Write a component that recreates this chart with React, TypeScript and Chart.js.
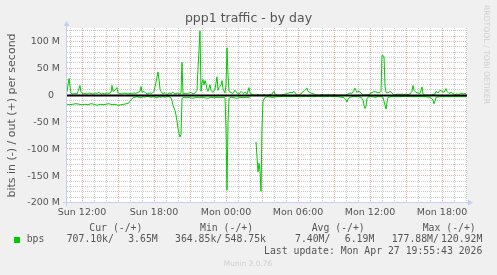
import React, { useEffect, useRef } from "react";
import { Chart, registerables } from "chart.js";

Chart.register(...registerables);

// Time is minutes since Sunday 00:00; values are Mbit/s.
const xStart = 645;
const xEnd = 2645;
const xTickMinutes = [720, 1080, 1440, 1800, 2160, 2520];
const yTickValues = [-200, -150, -100, -50, 0, 50, 100];
const yMin = -200;
const yMax = 126;

// out (+) traffic
const outTraffic: [number, number][] = [
  [645, 7], [650, 20], [655, 32], [660, 18], [665, 4], [675, 3], [685, 4], [695, 3], [700, 8], [710, 19],
  [715, 6], [725, 3], [735, 4], [745, 3], [755, 5], [765, 4], [775, 3], [785, 5], [795, 4], [805, 6],
  [815, 3], [825, 4], [835, 3], [845, 5], [855, 4], [865, 6], [870, 19], [875, 8], [885, 10], [895, 15],
  [900, 5], [910, 4], [920, 3], [930, 5], [940, 4], [950, 3], [960, 4], [970, 3], [980, 5], [990, 4],
  [1000, 6], [1010, 8], [1015, 17], [1020, 6], [1030, 8], [1040, 4], [1050, 3], [1060, 5], [1070, 4], [1080, 8],
  [1090, 25], [1100, 44], [1105, 30], [1110, 12], [1115, 8], [1125, 3], [1135, 6], [1145, 2], [1155, 5], [1165, 4],
  [1175, 6], [1185, 3], [1195, 5], [1205, 3], [1215, 4], [1220, 62], [1225, 3], [1235, 4], [1245, 3], [1255, 5],
  [1265, 6], [1275, 3], [1285, 5], [1295, 10], [1300, 50], [1310, 121], [1315, 8], [1320, 25], [1325, 30], [1330, 20],
  [1335, 28], [1340, 22], [1345, 12], [1350, 8], [1360, 20], [1365, 10], [1375, 6], [1385, 12], [1395, 35], [1400, 10],
  [1405, 15], [1415, 20], [1420, 28], [1425, 12], [1435, 5], [1440, 20], [1445, 89], [1450, 40], [1455, 8], [1465, 6],
  [1475, 4], [1485, 10], [1495, 5], [1505, 3], [1515, 8], [1525, 4], [1535, 6], [1545, 3], [1555, 15], [1560, 5],
  [1570, 2], [1580, 1], [1590, 1], [1600, 2], [1610, 1], [1620, 1], [1630, 2], [1640, 1], [1650, 1], [1660, 2],
  [1670, 3], [1680, 8], [1685, 3], [1695, 1], [1705, 1], [1715, 1], [1725, 2], [1740, 3], [1745, 4], [1755, 5],
  [1765, 6], [1770, 5], [1780, 8], [1790, 3], [1795, 1], [1805, 1], [1815, 3], [1820, 6], [1830, 8], [1835, 10],
  [1845, 14], [1850, 8], [1860, 6], [1870, 4], [1880, 3], [1890, 1], [1900, 1], [1910, 1], [1920, 2], [1930, 1],
  [1940, 1], [1950, 2], [1960, 1], [1970, 1], [1980, 2], [1990, 1], [2000, 1], [2010, 1], [2020, 1], [2030, 1],
  [2040, 1], [2050, 3], [2060, 5], [2070, 4], [2080, 10], [2085, 14], [2095, 6], [2100, 8], [2110, 7], [2120, 3],
  [2130, 1], [2140, 2], [2150, 1], [2160, 3], [2165, 6], [2170, 5], [2180, 8], [2190, 7], [2200, 5], [2210, 6],
  [2215, 8], [2220, 75], [2230, 73], [2235, 18], [2240, 6], [2250, 5], [2260, 8], [2270, 5], [2280, 1], [2290, 2],
  [2300, 3], [2310, 2], [2320, 3], [2330, 2], [2340, 3], [2350, 2], [2360, 3], [2370, 8], [2375, 19], [2380, 10],
  [2390, 6], [2400, 5], [2410, 4], [2420, 16], [2425, 3], [2435, 1], [2445, 1], [2455, 1], [2465, 1], [2475, 2],
  [2485, 3], [2490, 8], [2500, 5], [2510, 10], [2520, 8], [2530, 6], [2540, 13], [2545, 8], [2555, 4], [2565, 6],
  [2575, 4], [2585, 2], [2595, 3], [2605, 2], [2615, 5], [2625, 3], [2635, 4], [2640, 3],
];

// in (-) traffic, as magnitudes (drawn below zero); null = no data
const inTraffic: [number, number | null][] = [
  [645, 16], [660, 17], [675, 16], [690, 15], [705, 16], [720, 17], [735, 16], [750, 17], [765, 15], [780, 16],
  [795, 18], [810, 16], [825, 17], [840, 16], [855, 15], [870, 17], [885, 16], [900, 18], [915, 17], [930, 16],
  [945, 15], [955, 13], [965, 8], [975, 4], [985, 3], [995, 2], [1005, 3], [1015, 4], [1025, 2], [1035, 3],
  [1045, 1], [1055, 2], [1065, 3], [1075, 2], [1085, 3], [1095, 4], [1105, 2], [1115, 3], [1125, 2], [1135, 3],
  [1145, 2], [1155, 2], [1165, 4], [1170, 10], [1175, 18], [1185, 28], [1190, 36], [1195, 48], [1200, 61], [1205, 70],
  [1210, 77], [1215, 72], [1220, 5], [1230, 3], [1240, 4], [1250, 3], [1260, 4], [1275, 5], [1290, 3], [1305, 4],
  [1320, 3], [1335, 4], [1350, 5], [1365, 3], [1380, 4], [1395, 3], [1410, 4], [1425, 3], [1435, 4], [1440, 60],
  [1445, 176], [1450, 50], [1455, 5], [1465, 3], [1480, 4], [1495, 5], [1510, 3], [1525, 4], [1540, 3], [1555, 4],
  [1560, 4], [1575, null], [1590, 86], [1600, 142], [1605, 126], [1610, 140], [1615, 178], [1620, 60], [1625, 10], [1635, 3],
  [1650, 2], [1665, 3], [1680, 3], [1695, 2], [1710, 2], [1725, 1], [1740, 2], [1760, 2], [1780, 1], [1800, 2],
  [1820, 2], [1840, 1], [1860, 2], [1880, 2], [1900, 1], [1920, 2], [1940, 2], [1960, 1], [1980, 2], [2000, 2],
  [2020, 3], [2030, 4], [2040, 8], [2045, 12], [2050, 6], [2060, 3], [2070, 2], [2085, 2], [2100, 2], [2115, 3],
  [2125, 8], [2130, 18], [2135, 24], [2140, 20], [2145, 5], [2155, 2], [2170, 2], [2185, 3], [2200, 2], [2215, 2],
  [2225, 3], [2235, 18], [2240, 25], [2245, 12], [2250, 3], [2265, 2], [2285, 2], [2310, 2], [2335, 1], [2360, 2],
  [2385, 2], [2410, 2], [2435, 2], [2460, 3], [2475, 8], [2480, 15], [2485, 10], [2490, 3], [2510, 2], [2535, 2],
  [2560, 2], [2585, 2], [2610, 2], [2640, 2],
];

const legendHeaders = ["Cur (-/+)", "Min (-/+)", "Avg (-/+)", "Max (-/+)"];
const legendIn = ["707.10k", "364.85k", "7.40M", "177.88M"];
const legendOut = ["3.65M", "548.75k", "6.19M", "120.92M"];
const lastUpdate = "Last update: Mon Apr 27 19:55:43 2026";

const W = 497;
const H = 275;
const GREEN = "#00CC00";
const TEXT = "#555555";

function fmtTime(m: number): string {
  const day = m < 1440 ? "Sun" : "Mon";
  const hh = Math.floor((m % 1440) / 60);
  return `${day} ${String(hh).padStart(2, "0")}:00`;
}

const rrdPlugin = {
  id: "rrd",
  beforeDraw(chart: any) {
    const { ctx, chartArea: a } = chart;
    ctx.save();
    ctx.fillStyle = "#F0F0F0";
    ctx.fillRect(0, 0, chart.width, chart.height);
    ctx.fillStyle = "#FFFFFF";
    ctx.fillRect(a.left, a.top, a.right - a.left, a.bottom - a.top);
    ctx.restore();
  },
  beforeDatasetsDraw(chart: any) {
    const { ctx, chartArea: a } = chart;
    const xs = chart.scales.x;
    const ys = chart.scales.y;
    ctx.save();
    ctx.lineWidth = 1;
    ctx.setLineDash([1, 1]);
    const hline = (v: number, c: string) => {
      const py = Math.round(ys.getPixelForValue(v)) - 0.5;
      ctx.strokeStyle = c;
      ctx.beginPath();
      ctx.moveTo(a.left, py);
      ctx.lineTo(a.right, py);
      ctx.stroke();
    };
    const vline = (m: number, c: string) => {
      const px = Math.round(xs.getPixelForValue(m)) + 0.5;
      ctx.strokeStyle = c;
      ctx.beginPath();
      ctx.moveTo(px, a.top);
      ctx.lineTo(px, a.bottom);
      ctx.stroke();
    };
    const minor = "#CBCBCB";
    const major = "#F0ABAB";
    for (let v = yMin + 10; v < yMax; v += 10) {
      if (v % 50 !== 0) hline(v, minor);
    }
    for (let m = Math.ceil(xStart / 60) * 60; m < xEnd; m += 60) {
      if (m % 180 !== 0) vline(m, minor);
    }
    for (const v of yTickValues) hline(v, major);
    for (let m = Math.ceil(xStart / 180) * 180; m < xEnd; m += 180) vline(m, major);
    ctx.restore();
  },
  afterDatasetsDraw(chart: any) {
    const { ctx, chartArea: a } = chart;
    const ys = chart.scales.y;
    ctx.save();
    // zero line
    const z = Math.round(ys.getPixelForValue(0));
    ctx.fillStyle = "#000000";
    ctx.fillRect(a.left, z - 1.5, a.right - a.left, 2);
    // axes with arrows
    const axis = "#C6CEF4";
    ctx.strokeStyle = axis;
    ctx.fillStyle = axis;
    ctx.lineWidth = 1;
    ctx.beginPath();
    ctx.moveTo(a.left - 0.5, a.bottom + 3);
    ctx.lineTo(a.left - 0.5, a.top - 3);
    ctx.moveTo(a.left - 4, a.bottom - 0.5);
    ctx.lineTo(a.right + 3, a.bottom - 0.5);
    ctx.stroke();
    ctx.beginPath();
    ctx.moveTo(a.left - 0.5, a.top - 7);
    ctx.lineTo(a.left - 3.5, a.top - 2);
    ctx.lineTo(a.left + 2.5, a.top - 2);
    ctx.closePath();
    ctx.fill();
    ctx.beginPath();
    ctx.moveTo(a.right + 6, a.bottom - 0.5);
    ctx.lineTo(a.right + 1, a.bottom - 3.5);
    ctx.lineTo(a.right + 1, a.bottom + 2.5);
    ctx.closePath();
    ctx.fill();
    ctx.restore();
  },
};

const mono: React.CSSProperties = {
  position: "absolute",
  whiteSpace: "pre",
  fontFamily: "'DejaVu Sans Mono', monospace",
  fontSize: "9.8px",
  lineHeight: "12px",
  color: TEXT,
};

export default function App() {
  const ref = useRef<HTMLCanvasElement | null>(null);

  useEffect(() => {
    if (!ref.current) return;
    const chart = new Chart(ref.current, {
      type: "line",
      data: {
        datasets: [
          {
            label: "in",
            data: inTraffic.map(([m, v]) => ({ x: m, y: v === null ? null : -v })) as any,
            borderColor: GREEN,
            borderWidth: 1,
            pointRadius: 0,
            spanGaps: false,
            tension: 0,
          },
          {
            label: "out",
            data: outTraffic.map(([m, v]) => ({ x: m, y: v })),
            borderColor: GREEN,
            borderWidth: 1,
            pointRadius: 0,
            tension: 0,
          },
        ],
      },
      plugins: [rrdPlugin],
      options: {
        responsive: false,
        animation: false,
        events: [],
        layout: { padding: 0 },
        plugins: {
          legend: { display: false },
          tooltip: { enabled: false },
          title: {
            display: true,
            text: "ppp1 traffic - by day",
            color: TEXT,
            font: { family: "'DejaVu Sans'", size: 12.5, weight: "normal", lineHeight: 1.2 },
            padding: { top: 10.8, bottom: 2.2 },
          },
        },
        scales: {
          x: {
            type: "linear",
            min: xStart,
            max: xEnd,
            grid: { display: false, drawTicks: false },
            border: { display: false },
            afterBuildTicks: (s: any) => {
              s.ticks = xTickMinutes.map((v) => ({ value: v }));
            },
            afterFit: (s: any) => {
              s.height = 72;
            },
            ticks: {
              autoSkip: false,
              maxRotation: 0,
              padding: 4,
              color: TEXT,
              font: { family: "'DejaVu Sans'", size: 9.5 },
              callback: (v: any) => fmtTime(Number(v)),
            },
          },
          y: {
            type: "linear",
            position: "left",
            min: yMin,
            max: yMax,
            grid: { display: false, drawTicks: false },
            border: { display: false },
            afterBuildTicks: (s: any) => {
              s.ticks = yTickValues.map((v) => ({ value: v }));
            },
            afterFit: (s: any) => {
              s.width = 67;
            },
            ticks: {
              autoSkip: false,
              padding: 7,
              color: TEXT,
              font: { family: "'DejaVu Sans'", size: 9.5 },
              callback: (v: any) => (Number(v) === 0 ? "0  " : `${v} M`),
            },
            title: {
              display: true,
              text: "bits in (-) / out (+) per second",
              color: TEXT,
              font: { family: "'DejaVu Sans'", size: 11, lineHeight: 1.2 },
              padding: { top: 5.4, bottom: 0 },
            },
          },
          y2: {
            type: "linear",
            position: "right",
            grid: { display: false, drawTicks: false },
            border: { display: false },
            ticks: { display: false },
            afterFit: (s: any) => {
              s.width = 30;
            },
          },
        },
      },
    });
    return () => chart.destroy();
  }, []);

  const headerX = [89.3, 200, 311.7, 422.7];
  const inX = [66.7, 175, 295, 391.7];
  const outRight = [157.7, 266, 374.3, 482.3];

  return (
    <div
      style={{
        position: "fixed",
        left: 0,
        top: 0,
        width: W,
        height: H,
        background: "#F0F0F0",
        overflow: "hidden",
      }}
    >
      <canvas ref={ref} width={W} height={H} style={{ position: "absolute", left: 0, top: 0, width: W, height: H }} />
      <div
        style={{
          position: "absolute",
          left: 482,
          top: 5,
          writingMode: "vertical-rl",
          fontFamily: "'DejaVu Sans', sans-serif",
          fontSize: "7.7px",
          lineHeight: "9px",
          color: "#CFCFCF",
          whiteSpace: "pre",
        }}
      >
        RRDTOOL / TOBI OETIKER
      </div>
      {legendHeaders.map((h, i) => (
        <span key={h} style={{ ...mono, left: headerX[i], top: 222 }}>
          {h}
        </span>
      ))}
      <span
        style={{
          position: "absolute",
          left: 14,
          top: 236.5,
          width: 6,
          height: 6,
          background: GREEN,
        }}
      />
      <span style={{ ...mono, left: 26.7, top: 233.4 }}>bps</span>
      {legendIn.map((v, i) => (
        <span key={"in" + i} style={{ ...mono, left: inX[i], top: 233.4 }}>
          {v + "/"}
        </span>
      ))}
      {legendOut.map((v, i) => (
        <span key={"out" + i} style={{ ...mono, right: W - outRight[i], top: 233.4 }}>
          {v}
        </span>
      ))}
      <span style={{ ...mono, right: W - 482.3, top: 245 }}>{lastUpdate}</span>
      <div
        style={{
          position: "absolute",
          left: 0,
          width: W - 1,
          top: 259,
          textAlign: "center",
          fontFamily: "'DejaVu Sans', sans-serif",
          fontSize: "7.4px",
          lineHeight: "9px",
          color: "#CFCFCF",
        }}
      >
        Munin 2.0.76
      </div>
    </div>
  );
}
